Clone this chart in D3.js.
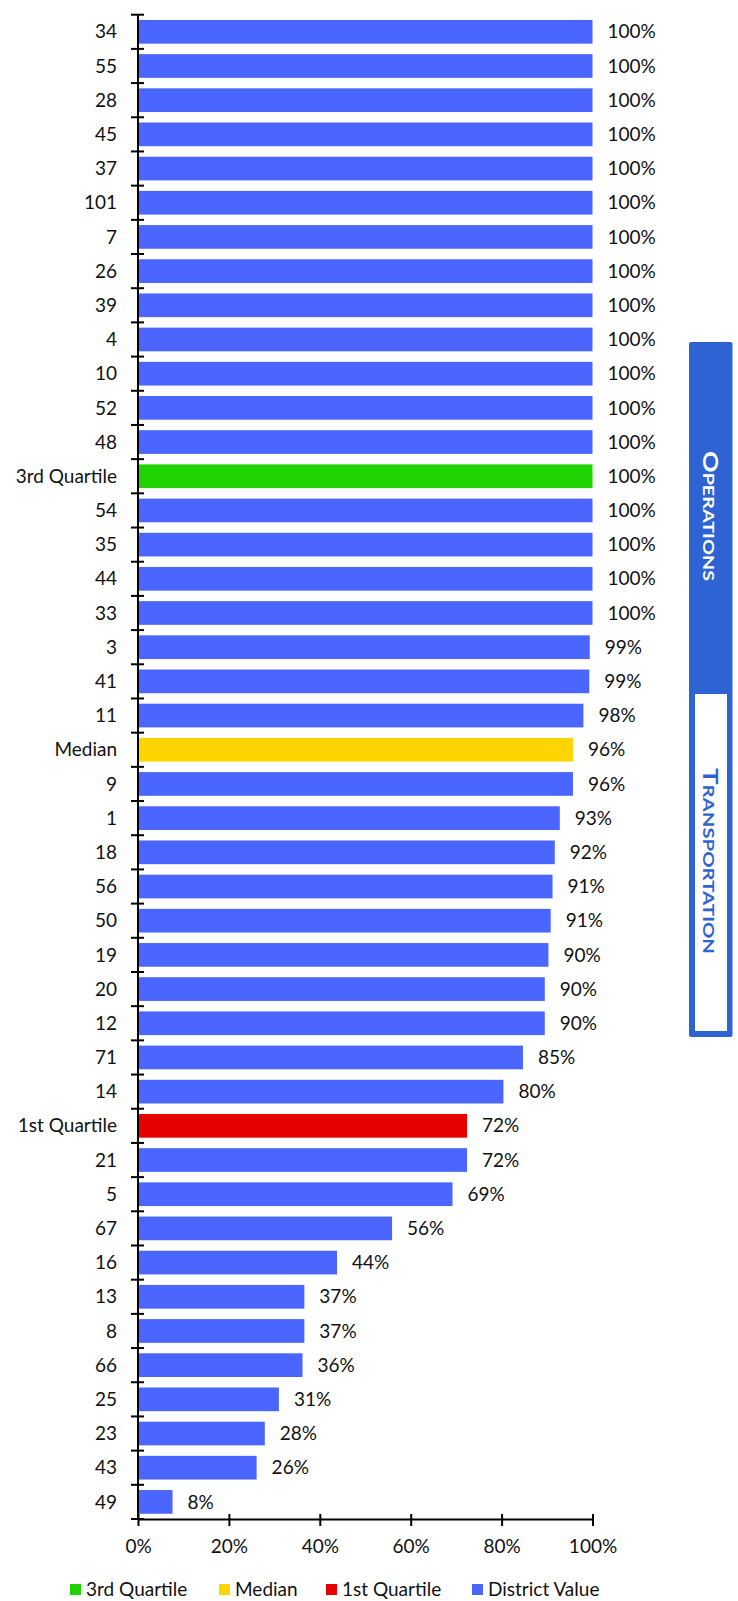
<!DOCTYPE html>
<html><head><meta charset="utf-8">
<script src="https://cdn.jsdelivr.net/npm/d3@7"></script>
<style>body{margin:0;background:#fff}svg{display:block}text{font-family:Lato,"Open Sans",sans-serif}</style>
</head><body><svg id="c" width="738" height="1601"></svg>
<script>
const categories = ["34","55","28","45","37","101","7","26","39","4","10","52","48","3rd Quartile","54","35","44","33","3","41","11","Median","9","1","18","56","50","19","20","12","71","14","1st Quartile","21","5","67","16","13","8","66","25","23","43","49"];
const values = [1,1,1,1,1,1,1,1,1,1,1,1,1,1,1,1,1,1,0.994,0.993,0.98,0.957,0.957,0.928,0.917,0.912,0.908,0.903,0.895,0.895,0.847,0.804,0.724,0.724,0.692,0.559,0.438,0.366,0.366,0.362,0.31,0.279,0.261,0.076];
const xTicks = [0,0.2,0.4,0.6,0.8,1];
const legendItems = ["3rd Quartile","Median","1st Quartile","District Value"];
const legendColors = ["#1ed300","#ffd500","#e60000","#4a66ff"];

const FS = 19;
const svg = d3.select("#c");
const x = d3.scaleLinear().domain([0,1]).range([138,592.5]);
const p = 0.307;
const y = d3.scaleBand().domain(categories).range([14.7,1519]).paddingInner(p).paddingOuter(p/2);
const colorOf = c => c==="3rd Quartile"?legendColors[0]:c==="Median"?legendColors[1]:c==="1st Quartile"?legendColors[2]:legendColors[3];
const fmt = d3.format(".0%");

svg.append("g").selectAll("rect").data(categories).join("rect")
  .attr("x", x(0)).attr("y", d=>y(d)).attr("height", y.bandwidth())
  .attr("width", (d,i)=>x(values[i])-x(0)).attr("fill", d=>colorOf(d));

// value labels
svg.append("g").selectAll("text").data(categories).join("text")
  .attr("x",(d,i)=>x(values[i])+15).attr("y",d=>y(d)+y.bandwidth()/2)
  .attr("dy","0.35em").attr("font-size",FS).attr("fill","#111")
  .text((d,i)=>fmt(values[i]));

// category labels
svg.append("g").selectAll("text").data(categories).join("text")
  .attr("x",117).attr("y",d=>y(d)+y.bandwidth()/2).attr("dy","0.35em")
  .attr("text-anchor","end").attr("font-size",FS).attr("fill","#111").text(d=>d);

// y axis line and boundary ticks
const step = y.step();
const bounds = d3.range(categories.length+1).map(i=>y(categories[0]) - step*p/2 + i*step);
svg.append("line").attr("x1",x(0)).attr("x2",x(0)).attr("y1",bounds[0]).attr("y2",1519)
  .attr("stroke","#000").attr("stroke-width",2);
svg.append("g").selectAll("line").data(bounds).join("line")
  .attr("x1",131).attr("x2",144).attr("y1",d=>d).attr("y2",d=>d).attr("stroke","#000").attr("stroke-width",2);

// x axis
const xa = svg.append("g").attr("transform","translate(0,1519)")
  .call(d3.axisBottom(x).tickValues(xTicks).tickFormat(fmt).tickSize(7).tickSizeOuter(0));
xa.select(".domain").attr("stroke","#000").attr("stroke-width",2);
xa.selectAll(".tick line").attr("stroke","#000").attr("stroke-width",2).attr("y1",-5);
xa.selectAll(".tick text").attr("font-family","Lato").attr("font-size",FS).attr("fill","#111").attr("y",27).attr("dy","0.35em");

// legend
const lx = [70,219,326,472];
const lg = svg.append("g");
legendItems.forEach((t,i)=>{
  lg.append("rect").attr("x",lx[i]).attr("y",1584).attr("width",11).attr("height",11).attr("fill",legendColors[i]);
  lg.append("text").attr("x",lx[i]+16).attr("y",1589.5).attr("dy","0.35em").attr("font-size",FS).attr("fill","#111").text(t);
});

// side tab
const tab = svg.append("g");
tab.append("rect").attr("x",689).attr("y",342).attr("width",43.5).attr("height",695).attr("rx",2).attr("fill","#2e63d3");
tab.append("rect").attr("x",695).attr("y",694).attr("width",32).attr("height",337).attr("fill","#fff");
function smallCaps(txt, cx, cy, len, color){
  const t = tab.append("text").attr("transform",`translate(${cx},${cy}) rotate(90)`)
    .attr("text-anchor","middle").attr("dy","0.36em").attr("font-weight","bold").attr("fill",color)
    .attr("font-family","'DejaVu Sans'")
    .attr("textLength",len).attr("lengthAdjust","spacingAndGlyphs");
  t.append("tspan").attr("font-size",21).text(txt[0]);
  t.append("tspan").attr("font-size",15.5).text(txt.slice(1).toUpperCase());
}
smallCaps("Operations",708.5,516,130,"#fff");
smallCaps("Transportation",709,861,186,"#2e63d3");
</script></body></html>
